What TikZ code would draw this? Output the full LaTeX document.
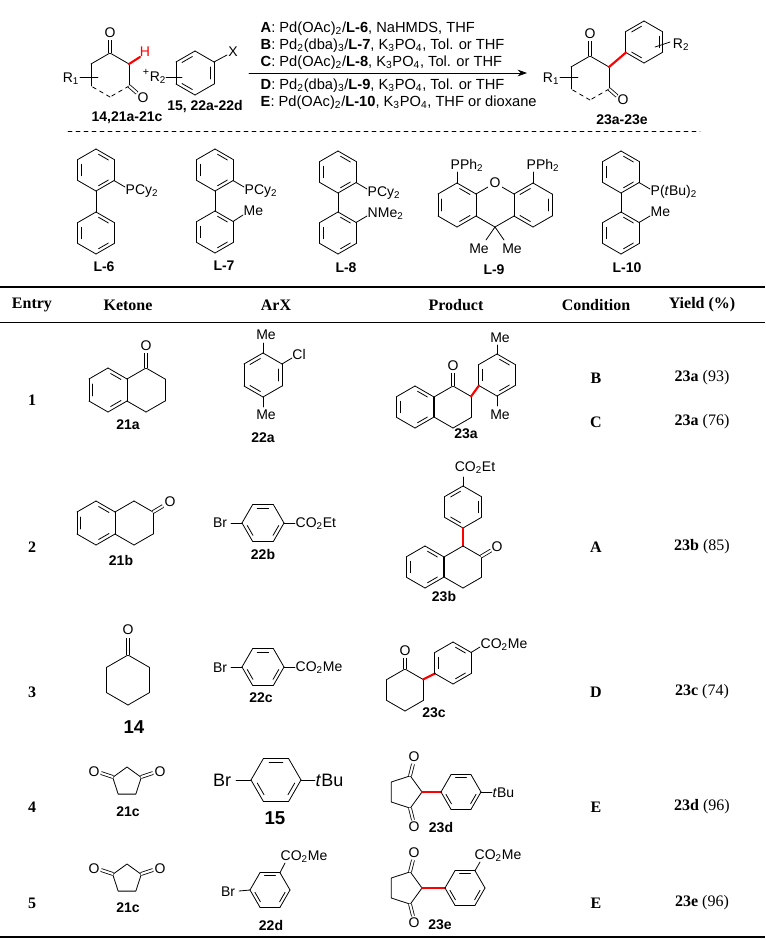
\documentclass[tikz,border=0pt]{standalone}
\usepackage{fontspec}
\setmainfont{Liberation Sans}
\newfontfamily\tabfont{Liberation Serif}
\usetikzlibrary{calc,arrows.meta}
\newcommand\hedge[5][]{\draw[#1] ($(#2,#3)+({#5}:#4)$) -- ($(#2,#3)+({#5+60}:#4)$);}
\newcommand\hexa[4]{\foreach \k in {0,...,5}{\hedge{#1}{#2}{#3}{#4+60*\k}}}
\newcommand\inb[4]{\draw ($(#1,#2)+({#4+9}:{0.76*#3})$) -- ($(#1,#2)+({#4+51}:{0.76*#3})$);}
\newcommand\benz[5]{\hexa{#1}{#2}{#3}{#4}\foreach \j in {#5}{\inb{#1}{#2}{#3}{#4+60*\j}}}
\newcommand\pent[4]{\draw ($(#1,#2)+({#4}:#3)$) -- ($(#1,#2)+({#4+72}:#3)$) -- ($(#1,#2)+({#4+144}:#3)$) -- ($(#1,#2)+({#4+216}:#3)$) -- ($(#1,#2)+({#4+288}:#3)$) -- cycle;}
\newcommand\sub[1]{\textsubscript{#1}}
\begin{document}
\begin{tikzpicture}[x=0.75pt,y=-0.75pt,line width=0.6pt,line cap=round,line join=round,
 atom/.style={font=\fontsize{10.5}{12}\selectfont,inner sep=1pt},
 batom/.style={font=\fontsize{13.5}{15}\selectfont,inner sep=1pt},
 lab/.style={font=\bfseries\fontsize{10.5}{12}\selectfont,inner sep=1pt},
 blab/.style={font=\bfseries\fontsize{14}{15}\selectfont,inner sep=1pt},
 tab/.style={font=\tabfont\bfseries\fontsize{12}{14}\selectfont,inner sep=1pt},
 yld/.style={font=\tabfont\fontsize{12}{14}\selectfont,inner sep=1pt},
 cond/.style={font=\fontsize{11}{13}\selectfont,anchor=west,inner sep=1pt},
 dbl/.style={double distance=1.6pt,line cap=butt},
 red bond/.style={red,line width=1.6pt}]
\useasboundingbox[fill=white] (0,0) rectangle (765,940);
% ===== scheme =====
\hedge{110}{75}{22}{-90}\hedge{110}{75}{22}{-30}\hedge{110}{75}{22}{150}\hedge{110}{75}{22}{210}
\hedge[dashed]{110}{75}{22}{30}\hedge[dashed]{110}{75}{22}{90}
\draw[dbl] (110,53) -- (110,40);
\node[atom] (o1) at (110,33) {O};
\draw[red bond] (129,64) -- (140,57);
\node[atom,red] (h1) at (145,52) {H};
\draw[dbl] (129,86) -- (137,93);
\node[atom] (o2) at (143,98) {O};
\node[atom] (r1a) at (71,79) {R\sub{1}};
\draw (80,77) -- (98,77);
\node[atom] (plus) at (146,72) {\fontsize{8}{9}\selectfont+};
\node[atom] (r2a) at (158,78) {R\sub{2}};
\draw (166,77) -- (182,77);
\benz{195}{73}{22}{-90}{1,3,5}
\draw (214,62) -- (227,55);
\node[atom] (x1) at (233,52) {X};
\node[lab] (l1) at (127,118) {14,21a-21c};
\node[lab] (l2) at (205,107) {15, 22a-22d};
\coordinate (as) at (249,73); \coordinate (ae) at (527,73);
\draw[-{Stealth[length=7pt,width=5pt]}] (as) -- (ae);
\node[cond] (cA) at (259,29) {\textbf{A}: Pd(OAc)\sub{2}/\textbf{L-6}, NaHMDS, THF};
\node[cond] (cB) at (259,46) {\textbf{B}: Pd\sub{2}(dba)\sub{3}/\textbf{L-7}, K\sub{3}PO\sub{4}, Tol. or THF};
\node[cond] (cC) at (259,63) {\textbf{C}: Pd(OAc)\sub{2}/\textbf{L-8}, K\sub{3}PO\sub{4}, Tol. or THF};
\node[cond] (cD) at (259,86) {\textbf{D}: Pd\sub{2}(dba)\sub{3}/\textbf{L-9}, K\sub{3}PO\sub{4}, Tol. or THF};
\node[cond] (cE) at (259,103) {\textbf{E}: Pd(OAc)\sub{2}/\textbf{L-10}, K\sub{3}PO\sub{4}, THF or dioxane};
% product
\hedge{590}{78}{22}{-90}\hedge{590}{78}{22}{-30}\hedge{590}{78}{22}{150}\hedge{590}{78}{22}{210}
\hedge[dashed]{590}{78}{22}{30}\hedge[dashed]{590}{78}{22}{90}
\draw[dbl] (590,56) -- (590,41);
\node[atom] (o3) at (590,34) {O};
\benz{644}{42}{21}{-90}{1,3,5}
\draw[red bond] (609,67) -- (626,52.5);
\draw (655,47) -- (670,42);
\node[atom] (r2b) at (681,45) {R\sub{2}};
\draw[dbl] (609,89) -- (617,96);
\node[atom] (o4) at (623,100) {O};
\node[atom] (r1b) at (551,79) {R\sub{1}};
\draw (560,77) -- (578,77);
\node[lab] (l3) at (622,120) {23a-23e};
\draw[dashed] (68,131) -- (700,131);
% ===== ligands =====
\benz{96}{170}{21}{-90}{0,2,4}\benz{96}{233}{21}{-90}{0,2,4}
\draw (96,191) -- (96,212);
\draw (114,180.5) -- (125,187);
\node[atom,anchor=west] (p6) at (124,191) {PCy\sub{2}};
\node[lab] (L6) at (104,267) {L-6};
\benz{215}{170}{21}{-90}{0,2,4}\benz{215}{232}{21}{-90}{0,2,4}
\draw (215,191) -- (215,211);
\draw (233,180.5) -- (244,187);
\node[atom,anchor=west] (p7) at (243,191) {PCy\sub{2}};
\draw (233,221.5) -- (243,215);
\node[atom,anchor=west] (m7) at (242,211) {Me};
\node[lab] (L7) at (224,266) {L-7};
\benz{338}{172}{21}{-90}{0,2,4}\benz{338}{233}{21}{-90}{0,2,4}
\draw (338,193) -- (338,212);
\draw (356,182.5) -- (367,189);
\node[atom,anchor=west] (p8) at (366,193) {PCy\sub{2}};
\draw (356,222.5) -- (367,216);
\node[atom,anchor=west] (n8) at (366,214) {NMe\sub{2}};
\node[lab] (L8) at (346,268) {L-8};
\benz{457}{205}{22}{-90}{0,2,4}\benz{533}{205}{22}{-90}{1,3,5}
\hedge{495}{205}{22}{-90}\hedge{495}{205}{22}{210}\hedge{495}{205}{22}{30}\hedge{495}{205}{22}{90}
\node[atom,fill=white] (o9) at (495,183) {O};
\draw (457,183) -- (457,172);
\node[atom,anchor=south west] (pp1) at (449,173) {PPh\sub{2}};
\draw (533,183) -- (533,172);
\node[atom,anchor=south west] (pp2) at (525,173) {PPh\sub{2}};
\draw (495,227) -- (486,240);
\draw (495,227) -- (504,240);
\node[atom] (me91) at (479,249) {Me};
\node[atom] (me92) at (512,249) {Me};
\node[lab] (L9) at (494,270) {L-9};
\benz{621}{172}{21}{-90}{0,2,4}\benz{621}{233}{21}{-90}{0,2,4}
\draw (621,193) -- (621,212);
\draw (639,182.5) -- (650,189);
\node[atom,anchor=west] (p10) at (649,192) {P(\textit{t}Bu)\sub{2}};
\draw (639,222.5) -- (650,216);
\node[atom,anchor=west] (m10) at (649,212) {Me};
\node[lab] (L10) at (627,268) {L-10};
% ===== table =====
\draw[line width=1.1pt,line cap=butt] (0,287) -- (765,287);
\draw[line cap=butt] (0,322) -- (765,322);
\draw[line width=1.1pt,line cap=butt] (0,937) -- (765,937);
\node[tab] (h1) at (32,305) {Entry};
\node[tab] (h2) at (128,305) {Ketone};
\node[tab] (h3) at (276,305) {ArX};
\node[tab] (h4) at (456,305) {Product};
\node[tab] (h5) at (596,305) {Condition};
\node[tab] (h6) at (702,305) {Yield (\%)};
% row 1
\node[tab] (e1) at (32,400) {1};
\node[tab] (c1) at (596,378) {B};
\node[tab] (c1b) at (596,422) {C};
\node[yld] (y1) at (702,378) {\textbf{23a} (93)};
\node[yld] (y1b) at (702,422) {\textbf{23a} (76)};
\benz{108}{390}{22}{-90}{0,2,4}\hexa{146}{390}{22}{-90}
\draw[dbl] (146,368) -- (146,353);
\node[atom] (o21a) at (146,346) {O};
\node[lab] (n21a) at (128,425) {21a};
\benz{263}{375}{22}{-90}{1,3,5}
\draw (263,353) -- (263,343);
\node[atom] (m22a) at (266,335) {Me};
\draw (282,364) -- (292,358);
\node[atom] (cl) at (299,354) {Cl};
\draw (263,397) -- (263,407);
\node[atom] (m22b) at (266,415) {Me};
\node[lab] (n22a) at (263,438) {22a};
\benz{415}{407}{21}{-90}{0,2,4}\hexa{453}{407}{21}{-90}
\draw[dbl] (453,386) -- (453,373);
\node[atom] (o23a) at (453,366) {O};
\benz{497}{375}{21}{-90}{0,2,4}
\draw[red bond] (471,396.5) -- (479,385.5);
\draw (497,354) -- (497,345);
\node[atom] (m23a) at (500,338) {Me};
\draw (497,396) -- (497,406);
\node[atom] (m23b) at (500,415) {Me};
\node[lab] (n23a) at (466,434) {23a};
% row 2
\node[tab] (e2) at (32,547) {2};
\node[tab] (c2) at (596,547) {A};
\node[yld] (y2) at (702,547) {\textbf{23b} (85)};
\benz{96}{523}{22}{-90}{0,2,4}\hexa{134}{523}{22}{-90}
\draw[dbl] (153,512) -- (163,506);
\node[atom] (o21b) at (170,502) {O};
\node[lab] (n21b) at (121,560) {21b};
\benz{263}{523}{21}{0}{0,2,4}
\draw (242,523) -- (231,523);
\node[atom] (br2) at (220,523) {Br};
\draw (284,523) -- (295,523);
\node[atom,anchor=west] (co2) at (294,524) {CO\sub{2}Et};
\node[lab] (n22b) at (263,554) {22b};
\benz{463}{507}{21}{-90}{1,3,5}
\draw (463,486) -- (463,477);
\node[atom] (co3) at (475,468) {CO\sub{2}Et};
\draw[red bond] (463,528) -- (463,546);
\benz{425}{567}{21}{-90}{0,2,4}\hexa{463}{567}{21}{-90}
\draw[dbl] (481,556.5) -- (491,550.5);
\node[atom] (o23b) at (497,547) {O};
\node[lab] (n23b) at (444,596) {23b};
% row 3
\node[tab] (e3) at (32,692) {3};
\node[tab] (c3) at (596,692) {D};
\node[yld] (y3) at (702,692) {\textbf{23c} (74)};
\hexa{128}{680}{25}{-90}
\draw[dbl] (128,655) -- (128,638);
\node[atom] (o14) at (128,630) {O};
\node[blab] (n14) at (134,727) {14};
\benz{263}{667}{21}{0}{0,2,4}
\draw (242,667) -- (231,667);
\node[atom] (br3) at (220,668) {Br};
\draw (284,667) -- (295,667);
\node[atom,anchor=west] (co4) at (294,668) {CO\sub{2}Me};
\node[lab] (n22c) at (261,698) {22c};
\hexa{405}{690}{21}{-90}
\draw[dbl] (405,669) -- (405,658);
\node[atom] (o23c) at (405,651) {O};
\draw[red bond] (423,679.5) -- (435,673.5);
\benz{453}{663}{21}{-90}{0,2,4}
\draw (471,652.5) -- (480,647);
\node[atom,anchor=west] (co5) at (479,645) {CO\sub{2}Me};
\node[lab] (n23c) at (434,713) {23c};
% row 4
\node[tab] (e4) at (32,807) {4};
\node[tab] (c4) at (596,807) {E};
\node[yld] (y4) at (702,807) {\textbf{23d} (96)};
\pent{127}{782}{15}{-90}
\draw[dbl] (141,777) -- (153,773);
\node[atom] (o21c1) at (160,772) {O};
\draw[dbl] (113,777) -- (101,773);
\node[atom] (o21c2) at (94,772) {O};
\node[lab] (n21c) at (128,812) {21c};
\benz{276}{780}{25}{0}{0,2,4}
\draw (251,780) -- (236,780);
\node[batom] (br4) at (222,780) {Br};
\draw (301,780) -- (315,780);
\node[batom,anchor=west] (tbu) at (314,780) {\textit{t}Bu};
\node[blab] (n15) at (275,818) {15};
\pent{405}{792}{17}{0}
\draw[dbl] (410,776) -- (413,764);
\node[atom] (o23d1) at (414,757) {O};
\draw[dbl] (410,808) -- (413,820);
\node[atom] (o23d2) at (414,827) {O};
\draw[red bond] (422,792) -- (441,792);
\benz{461}{792}{20}{0}{0,2,4}
\draw (481,792) -- (492,792);
\node[atom,anchor=west] (tbu2) at (491,793) {\textit{t}Bu};
\node[lab] (n23d) at (441,827) {23d};
% row 5
\node[tab] (e5) at (32,903) {5};
\node[tab] (c5) at (596,903) {E};
\node[yld] (y5) at (702,903) {\textbf{23e} (96)};
\pent{127}{879}{15}{-90}
\draw[dbl] (141,874) -- (153,870);
\node[atom] (o21d1) at (160,869) {O};
\draw[dbl] (113,874) -- (101,870);
\node[atom] (o21d2) at (94,869) {O};
\node[lab] (n21d) at (128,908) {21c};
\benz{270}{890}{20}{0}{0,2,4}
\draw (250,890) -- (239,891);
\node[atom] (br5) at (228,892) {Br};
\draw (280,872.7) -- (285,863);
\node[atom,anchor=south west] (co6) at (279,864) {CO\sub{2}Me};
\node[lab] (n22d) at (271,925) {22d};
\pent{405}{888}{17}{0}
\draw[dbl] (410,872) -- (413,860);
\node[atom] (o23e1) at (414,853) {O};
\draw[dbl] (410,904) -- (413,916);
\node[atom] (o23e2) at (414,923) {O};
\draw[red bond] (422,888) -- (445,888);
\benz{465}{888}{20}{0}{0,2,4}
\draw (475,870.7) -- (480,862);
\node[atom,anchor=south west] (co7) at (473,863) {CO\sub{2}Me};
\node[lab] (n23e) at (440,925) {23e};
\end{tikzpicture}
\end{document}
